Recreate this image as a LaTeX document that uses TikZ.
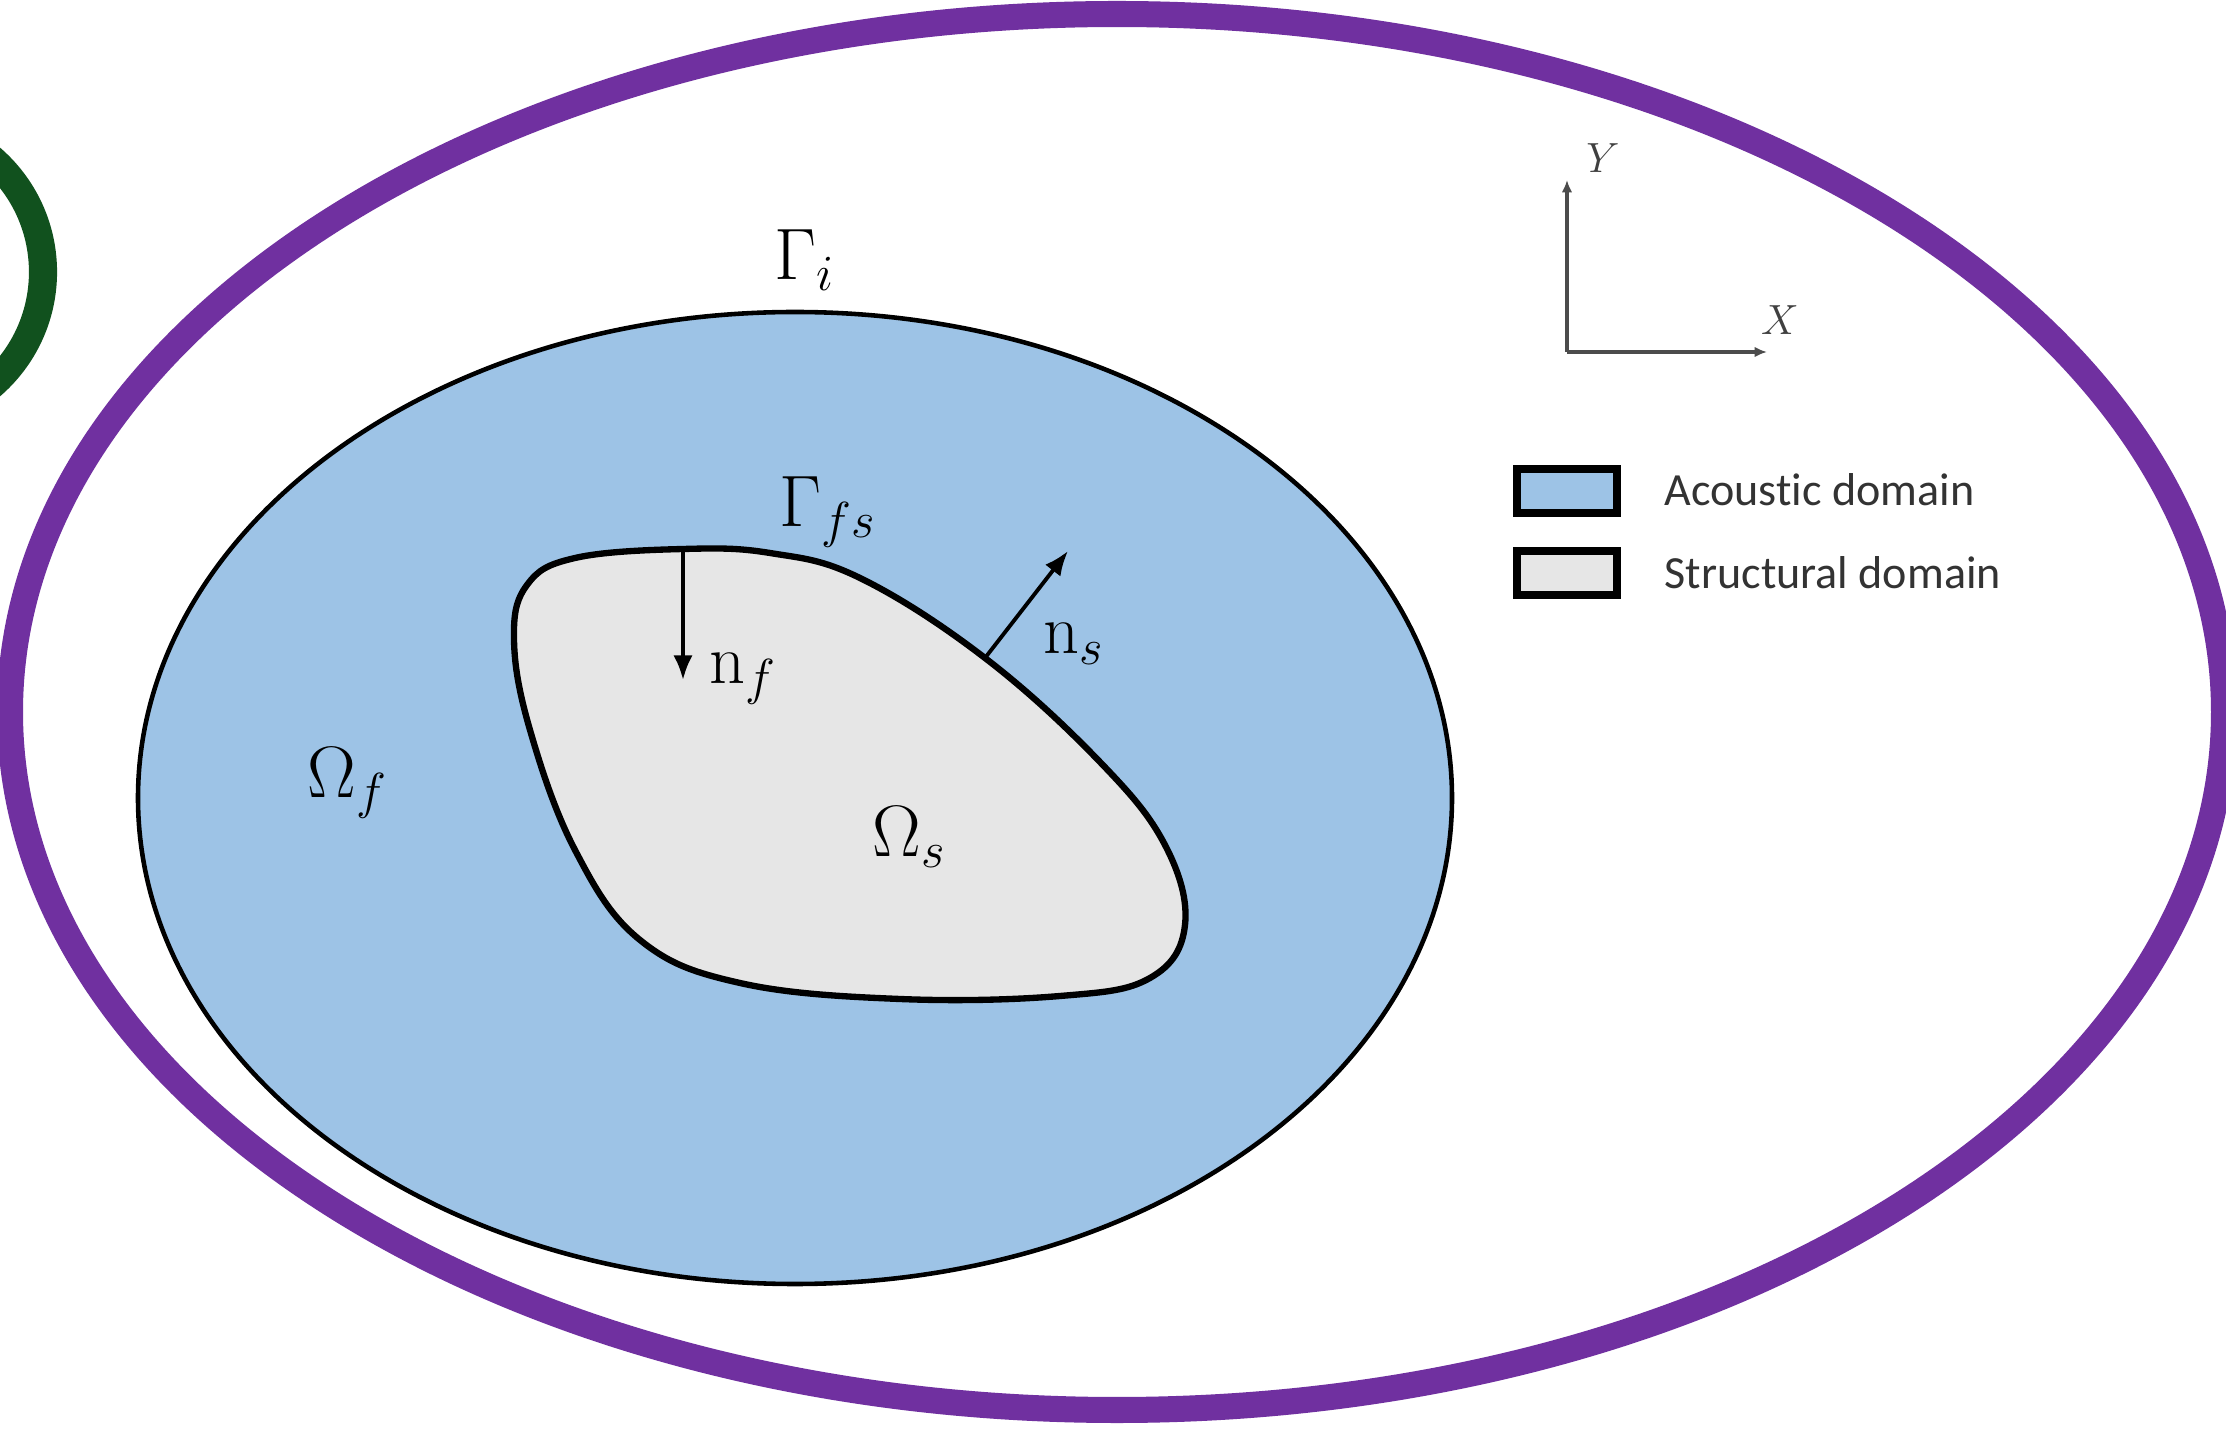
\documentclass[tikz,border=0pt]{standalone}
\usepackage{fontspec}
\newfontfamily\legfont[Ligatures={NoCommon}]{Carlito}
\usetikzlibrary{arrows.meta}
\definecolor{purp}{RGB}{112,48,160}
\definecolor{dgreen}{RGB}{17,81,30}
\definecolor{acou}{RGB}{157,195,230}
\definecolor{struc}{RGB}{230,230,230}
\begin{document}
\begin{tikzpicture}[x=0.01cm,y=-0.01cm,
  lbl/.style={inner sep=0pt, anchor=base west, font=\fontsize{20}{24}\selectfont},
  axlbl/.style={inner sep=0pt, font=\fontsize{12}{14}\selectfont, text=black!75},
  legtxt/.style={inner sep=0pt, anchor=west, font=\legfont\fontsize{13.1}{15}\selectfont, text=black!80},
  legbox/.style={draw=black, line width=2pt},
  normalarrow/.style={line width=1.1pt, -{Latex[length=7pt,width=5.5pt]}},
  axisarrow/.style={draw=black!70, line width=0.9pt, -{Latex[length=3.5pt,width=3pt]}}]
\useasboundingbox (0,0) rectangle (2226,1431);
\fill[white] (0,0) rectangle (2226,1431);
% outer curves
\draw[dgreen, line width=8pt] (-107,272) circle [radius=150];
\draw[purp, line width=7.4pt] (1117,712) ellipse [x radius=1107, y radius=698];
% acoustic domain
\draw[fill=acou, line width=1.3pt] (795,798) ellipse [x radius=657, y radius=486];
% structural domain
\draw[fill=struc, line width=1.8pt] plot[smooth cycle, tension=0.65] coordinates {
 (683,549) (575,558) (527,585) (514,640) (530,730) (575,850) (640,940) (740,983)
 (900,999) (1060,996) (1150,978) (1185,925) (1165,845) (1100,762) (985,658)
 (860,578) (770,553)};
% normals
\coordinate (nfbase) at (683,549);
\coordinate (nftip) at (683,680);
\coordinate (nsbase) at (985,658);
\coordinate (nstip) at (1068,551);
\draw[normalarrow] (nfbase) -- (nftip);
\draw[normalarrow] (nsbase) -- (nstip);
% labels
\node[lbl] (gi) at (774,280) {$\Gamma_i$};
\node[lbl] (gfs) at (779,527) {$\Gamma_{fs}$};
\node[lbl] (nf) at (709,684) {$\mathrm{n}_f$};
\node[lbl] (ns) at (1043,654) {$\mathrm{n}_s$};
\node[lbl] (of) at (307,798) {$\Omega_f$};
\node[lbl] (os) at (872,857) {$\Omega_s$};
% axes
\coordinate (ax0) at (1567,352);
\coordinate (axy) at (1567,180);
\coordinate (axx) at (1767,352);
\draw[axisarrow] (ax0) -- (axy);
\draw[axisarrow] (ax0) -- (axx);
\node[axlbl] (ylab) at (1603,158) {$Y$};
\node[axlbl] (xlab) at (1780,320) {$X$};
% legend
\draw[legbox, fill=acou] (1517,469) rectangle (1617,513);
\draw[legbox, fill=struc] (1517,551) rectangle (1617,595);
\node[legtxt] (lac) at (1664,490) {Acoustic domain};
\node[legtxt] (lst) at (1664,573) {Structural domain};
\end{tikzpicture}
\end{document}
